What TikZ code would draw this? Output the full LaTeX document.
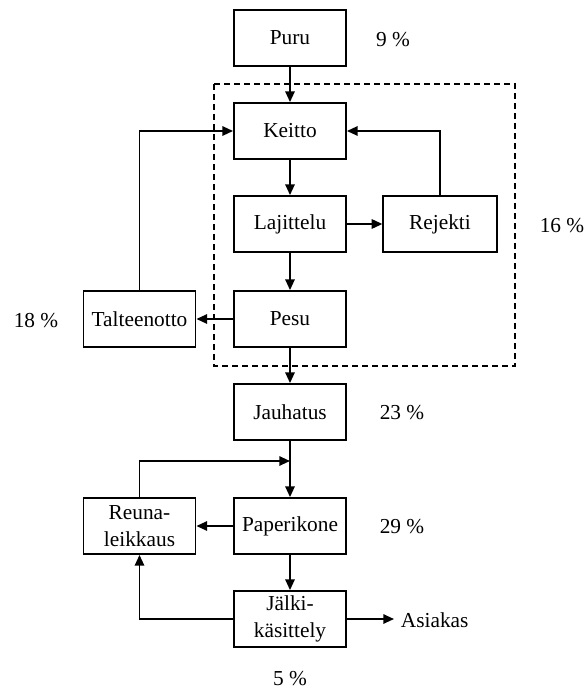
\documentclass[tikz,border=0pt]{standalone}
\usepackage{fontspec}
\setmainfont{Liberation Serif}
\usetikzlibrary{arrows.meta,positioning,calc}

\begin{document}
\begin{tikzpicture}[x=0.75pt, y=-0.75pt,
    stage/.style={rectangle, draw=black, line width=1.4pt, fill=white,
                  minimum height=42pt, minimum width=84pt, align=center,
                  font=\fontsize{16pt}{20pt}\selectfont},
    arr/.style={-{Triangle[length=8pt, width=7pt]}, line width=1.4pt},
    pct/.style={font=\fontsize{16pt}{20pt}\selectfont}]

    \useasboundingbox (0,0) rectangle (587,691);

    % Process block
    \draw[line width=1.3pt, dash pattern=on 4.5pt off 3pt] (214,84) rectangle (515,366);

    % Stages
    \node[stage] (puru) at (290,38) {Puru};
    \node[stage] (keitto) at (290,131) {Keitto};
    \node[stage] (lajittelu) at (290,224) {Lajittelu};
    \node[stage, minimum width=85pt] (rejekti) at (440,224) {Rejekti};
    \node[stage] (pesu) at (290,319) {Pesu};
    \node[stage] (talteen) at (139.5,319) {Talteenotto};
    \node[stage] (jauhatus) at (290,412) {Jauhatus};
    \node[stage] (paperi) at (290,526) {Paperikone};
    \node[stage] (reuna) at (139.5,526) {Reuna-\\leikkaus};
    \node[stage] (jalki) at (290,619) {Jälki-\\käsittely};

    % Shares
    \node[pct] (p1) at (393,40) {9 \%};
    \node[pct] (p2) at (562,226) {16 \%};
    \node[pct] (p3) at (36,321) {18 \%};
    \node[pct] (p4) at (402,413) {23 \%};
    \node[pct] (p5) at (402,527) {29 \%};
    \node[pct] (p6) at (290,679) {5 \%};
    \node[pct, anchor=west, inner sep=5pt] (asiakas) at (394,620) {Asiakas};

    % Main line
    \draw[arr] (puru) -- (keitto);
    \draw[arr] (keitto) -- (lajittelu);
    \draw[arr] (lajittelu) -- (rejekti);
    \draw[arr] (lajittelu) -- (pesu);
    \draw[arr] (pesu) -- (talteen);
    \draw[arr] (pesu) -- (jauhatus);
    \draw[arr] (jauhatus) -- (paperi);
    \draw[arr] (paperi) -- (reuna);
    \draw[arr] (paperi) -- (jalki);
    \draw[arr] (jalki.east) -- (jalki.east -| asiakas.west);

    % Returns
    \coordinate (edge) at (290,461);
    \draw[arr] (rejekti.north) |- (keitto.east);
    \draw[arr] (talteen.north) |- (keitto.west);
    \draw[arr] (reuna.north) |- (edge);
    \draw[arr] (jalki.west) -| (reuna.south);

  \end{tikzpicture}
\end{document}
